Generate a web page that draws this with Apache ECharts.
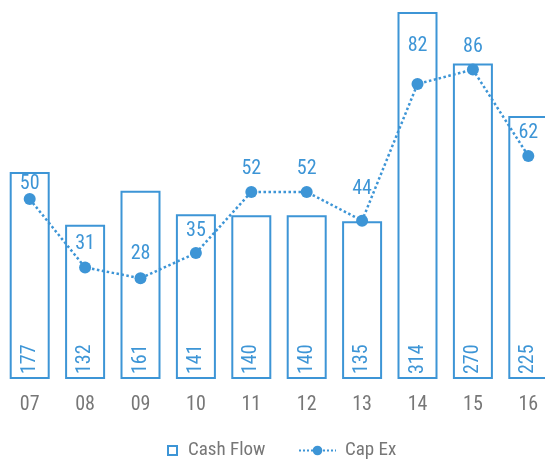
<!DOCTYPE html>
<html>
<head>
<meta charset="utf-8">
<script src="https://cdn.jsdelivr.net/npm/echarts@6/dist/echarts.min.js"></script>
<style>html,body{margin:0;padding:0;background:#fff}#c{width:545px;height:460px}</style>
</head>
<body>
<div id="c"></div>
<script>
const categories = ['07','08','09','10','11','12','13','14','15','16'];
const cashFlow = [177,132,161,141,140,140,135,314,270,225];
const capEx = [50,31,28,35,52,52,44,82,86,62];
// extra vertical lift of each Cap Ex label (styling only)
const capExLabelLift = [-8,0,1,-1,0,0,9,15,0,0];

const BLUE = '#3d95d6';
const GRAY = '#777777';
const FONT = "'Liberation Sans Narrow','Roboto Condensed','DejaVu Sans Condensed',sans-serif";

const chart = echarts.init(document.getElementById('c'));
chart.setOption({
  animation: false,
  textStyle: { fontFamily: FONT },
  grid: { left: 2, width: 554, top: 12, height: 367, containLabel: false, outerBoundsMode: 'none' },
  legend: [
    {
      data: [{ name: 'Cash Flow', icon: 'rect' }],
      left: 162, top: 436, itemWidth: 9, itemHeight: 9,
      itemStyle: { color: '#fff', borderColor: BLUE, borderWidth: 2 },
      textStyle: { color: GRAY, fontSize: 19, fontFamily: FONT, padding: [0, 0, 0, 6] }
    },
    {
      data: ['Cap Ex'],
      left: 293, top: 436, itemWidth: 37, itemHeight: 12,
      textStyle: { color: GRAY, fontSize: 19, fontFamily: FONT, padding: [0, 0, 0, 4] }
    }
  ],
  xAxis: {
    type: 'category',
    data: categories,
    axisLine: { show: false },
    axisTick: { show: false },
    axisLabel: { color: GRAY, fontSize: 20, fontFamily: FONT, margin: 16 }
  },
  yAxis: [
    { type: 'value', min: 0, max: 314, show: false, splitLine: { show: false } },
    { type: 'value', min: 0, max: 102, show: false, splitLine: { show: false } }
  ],
  series: [
    {
      name: 'Cash Flow',
      type: 'bar',
      data: cashFlow,
      yAxisIndex: 0,
      barWidth: 40,
      z: 1,
      itemStyle: { color: '#fff', borderColor: BLUE, borderWidth: 2 },
      label: {
        show: true, position: 'insideBottom', rotate: 90, align: 'left', verticalAlign: 'middle',
        distance: 5, color: BLUE, fontSize: 20, fontFamily: FONT
      }
    },
    {
      name: 'Cap Ex',
      type: 'line',
      data: capEx.map((v, i) => ({ value: v, label: { offset: [0, -capExLabelLift[i]] } })),
      yAxisIndex: 1,
      z: 5,
      symbol: 'circle',
      symbolSize: 12,
      itemStyle: { color: BLUE },
      lineStyle: { color: BLUE, width: 2.5, type: 'dotted' },
      label: { show: true, position: 'top', distance: 7, color: BLUE, fontSize: 20, fontFamily: FONT }
    }
  ]
});
</script>
</body>
</html>
